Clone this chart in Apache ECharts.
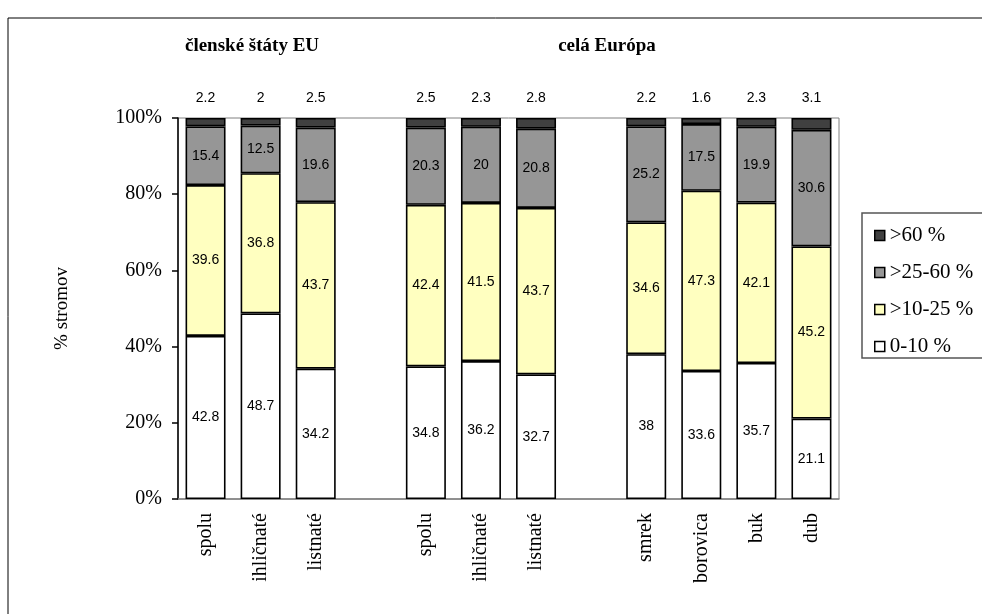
<!DOCTYPE html>
<html>
<head>
<meta charset="utf-8">
<script src="https://cdn.jsdelivr.net/npm/echarts@6/dist/echarts.min.js"></script>
<style>
  html, body { margin: 0; padding: 0; background: #fff; }
  #chart { width: 982px; height: 614px; }
</style>
</head>
<body>
<div id="chart"></div>
<script>
// Categories: three groups separated by empty slots
const categories = ['spolu', 'ihličnaté', 'listnaté', '', 'spolu', 'ihličnaté', 'listnaté', '', 'smrek', 'borovica', 'buk', 'dub'];

// Share of trees (%) in each defoliation class
const defol0to10   = [42.8, 48.7, 34.2, '-', 34.8, 36.2, 32.7, '-', 38, 33.6, 35.7, 21.1];
const defol10to25  = [39.6, 36.8, 43.7, '-', 42.4, 41.5, 43.7, '-', 34.6, 47.3, 42.1, 45.2];
const defol25to60  = [15.4, 12.5, 19.6, '-', 20.3, 20, 20.8, '-', 25.2, 17.5, 19.9, 30.6];
const defolOver60  = [2.2, 2, 2.5, '-', 2.5, 2.3, 2.8, '-', 2.2, 1.6, 2.3, 3.1];

const seriesNames = ['0-10 %', '>10-25 %', '>25-60 %', '>60 %'];
const legendOrder = ['>60 %', '>25-60 %', '>10-25 %', '0-10 %'];
const yTicks = [0, 20, 40, 60, 80, 100];

const groupTitles = ['členské štáty EU', 'celá Európa'];

const serif = '"Liberation Serif", "Times New Roman", serif';
const sans = '"Liberation Sans", Arial, sans-serif';

const chart = echarts.init(document.getElementById('chart'), null, { renderer: 'canvas' });

function barSeries(name, data, color, labelPos) {
  return {
    name: name,
    type: 'bar',
    stack: 'total',
    data: data,
    barWidth: 40,
    itemStyle: { color: color, borderColor: '#000', borderWidth: 1.6 },
    label: {
      show: true,
      position: labelPos,
      distance: labelPos === 'top' ? 13 : 5,
      color: '#000',
      fontFamily: sans,
      fontSize: 14,
      formatter: p => String(p.value)
    },
    emphasis: { disabled: true },
    animation: false
  };
}

const option = {
  animation: false,
  backgroundColor: '#fff',
  grid: {
    left: 178, right: 143, top: 118, bottom: 115,
    show: true, borderColor: '#808080', borderWidth: 1,
    containLabel: false
  },
  legend: {
    data: legendOrder,
    orient: 'vertical',
    left: 869,
    top: 220,
    itemWidth: 10,
    itemHeight: 10,
    itemGap: 16,
    icon: 'rect',
    itemStyle: { borderColor: '#000', borderWidth: 1.5 },
    textStyle: { fontFamily: serif, fontSize: 21, color: '#000', lineHeight: 21 },
    selectedMode: false
  },
  xAxis: {
    type: 'category',
    data: categories,
    axisLine: { lineStyle: { color: '#808080', width: 1.5 } },
    axisTick: { show: false },
    axisLabel: {
      rotate: 90,
      margin: 14,
      interval: 0,
      fontFamily: serif,
      fontSize: 20,
      color: '#000'
    }
  },
  yAxis: {
    type: 'value',
    min: 0,
    max: 100,
    interval: 20,
    name: '% stromov',
    nameLocation: 'middle',
    nameGap: 106,
    nameTextStyle: { fontFamily: serif, fontSize: 19, color: '#000' },
    axisLine: { show: true, lineStyle: { color: '#000', width: 1.5 } },
    axisTick: { show: true, length: 6, lineStyle: { color: '#000', width: 1.5 } },
    splitLine: { show: false },
    axisLabel: {
      margin: 16,
      fontFamily: serif,
      fontSize: 20,
      color: '#000',
      formatter: v => yTicks.includes(v) ? v + '%' : ''
    }
  },
  series: [
    barSeries(seriesNames[0], defol0to10, '#ffffff', 'inside'),
    barSeries(seriesNames[1], defol10to25, '#ffffc0', 'inside'),
    barSeries(seriesNames[2], defol25to60, '#969696', 'inside'),
    barSeries(seriesNames[3], defolOver60, '#404040', 'top')
  ],
  graphic: [
    {
      type: 'rect', silent: true, z: -10,
      shape: { x: 8, y: 18, width: 1000, height: 700 },
      style: { fill: 'none', stroke: '#000', lineWidth: 1 }
    },
    {
      type: 'rect', silent: true, z: -5,
      shape: { x: 862, y: 213, width: 200, height: 145 },
      style: { fill: '#fff', stroke: '#555', lineWidth: 1.5 }
    },
    {
      type: 'text', silent: true,
      x: 252, y: 46,
      style: {
        text: groupTitles[0], fontFamily: serif, fontWeight: 'bold', fontSize: 19,
        fill: '#000', align: 'center', verticalAlign: 'middle'
      }
    },
    {
      type: 'text', silent: true,
      x: 607, y: 46,
      style: {
        text: groupTitles[1], fontFamily: serif, fontWeight: 'bold', fontSize: 19,
        fill: '#000', align: 'center', verticalAlign: 'middle'
      }
    }
  ]
};

chart.setOption(option);
</script>
</body>
</html>
